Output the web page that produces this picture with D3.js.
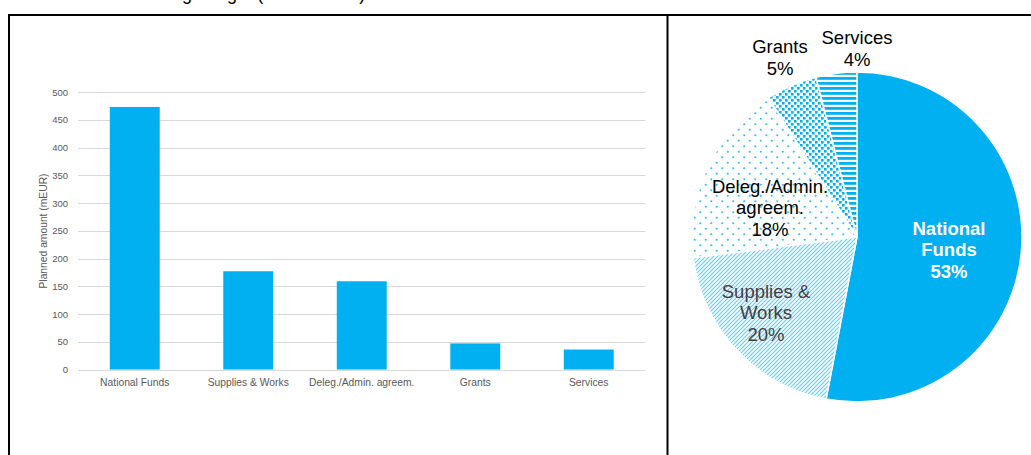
<!DOCTYPE html>
<html>
<head>
<meta charset="utf-8">
<script src="https://cdn.jsdelivr.net/npm/d3@7"></script>
<style>
  body { margin: 0; background: #fff; }
  svg { display: block; font-family: "Liberation Sans", Arial, sans-serif; }
</style>
</head>
<body>
<div id="container"></div>
<script>
let width = 1031;
let height = 455;

// data
let categories = ["National Funds", "Supplies & Works", "Deleg./Admin. agreem.", "Grants", "Services"];
let amounts = [473, 177, 159, 47, 36];
let pie_labels = [["National", "Funds"], ["Supplies &", "Works"], ["Deleg./Admin.", "agreem."], ["Grants"], ["Services"]];
let pie_shares = [53, 20, 18, 5, 4];
let y_ticks = [0, 50, 100, 150, 200, 250, 300, 350, 400, 450, 500];

let blue = "#00B0F0";

let svg = d3.select("#container").append("svg")
  .attr("width", width)
  .attr("height", height);

// title, cut off at the top edge as in the original
svg.append("text")
  .attr("x", 58)
  .attr("y", 0)
  .attr("font-size", 18)
  .attr("fill", "#000")
  .text("Overall financing budget (2021 - 2027)");

// frame
svg.append("path")
  .attr("d", "M9,460 V15 H1035 M667.5,15 V460")
  .attr("fill", "none")
  .attr("stroke", "#000")
  .attr("stroke-width", 2);

// ---- bar chart ----
let x = d3.scaleBand().domain(categories).range([78, 645.5]);
let y = d3.scaleLinear().domain([0, 500]).range([369.5, 92]);

let g = svg.append("g");

g.selectAll(".grid")
  .data(y_ticks)
  .enter()
  .append("line")
  .attr("class", "grid")
  .attr("x1", 78)
  .attr("x2", 645.5)
  .attr("y1", d => Math.round(y(d)) + 0.5)
  .attr("y2", d => Math.round(y(d)) + 0.5)
  .attr("stroke", "#d9d9d9")
  .attr("stroke-width", 1);

g.selectAll(".ytick")
  .data(y_ticks)
  .enter()
  .append("text")
  .attr("x", 68)
  .attr("y", d => y(d) + 3.5)
  .attr("text-anchor", "end")
  .attr("font-size", 9.5)
  .attr("fill", "#595959")
  .text(d => d);

let bar_w = x.bandwidth() * 0.44;

g.selectAll(".bar")
  .data(categories)
  .enter()
  .append("rect")
  .attr("class", "bar")
  .attr("x", d => x(d) + x.bandwidth() / 2 - bar_w / 2)
  .attr("width", bar_w)
  .attr("y", (d, i) => y(amounts[i]))
  .attr("height", (d, i) => y(0) - y(amounts[i]))
  .attr("fill", blue);

g.selectAll(".xlab")
  .data(categories)
  .enter()
  .append("text")
  .attr("x", d => x(d) + x.bandwidth() / 2)
  .attr("y", 386)
  .attr("text-anchor", "middle")
  .attr("font-size", 10.3)
  .attr("fill", "#595959")
  .text(d => d);

g.append("text")
  .attr("transform", "translate(47,231) rotate(-90)")
  .attr("text-anchor", "middle")
  .attr("font-size", 10.3)
  .attr("fill", "#595959")
  .text("Planned amount (mEUR)");

// ---- pie chart ----
let defs = svg.append("defs");

let p1 = defs.append("pattern").attr("id", "diag")
  .attr("patternUnits", "userSpaceOnUse")
  .attr("width", 4).attr("height", 4);
p1.append("rect").attr("width", 4).attr("height", 4).attr("fill", "#fff");
p1.append("path")
  .attr("d", "M-1,1 l2,-2 M0,4 l4,-4 M3,5 l2,-2")
  .attr("stroke", "#66cff5").attr("stroke-width", 1.2);

let p2 = defs.append("pattern").attr("id", "dots")
  .attr("patternUnits", "userSpaceOnUse")
  .attr("width", 11).attr("height", 11);
p2.append("rect").attr("width", 11).attr("height", 11).attr("fill", "#fff");
p2.append("circle").attr("cx", 2.75).attr("cy", 2.75).attr("r", 1.1).attr("fill", "#33c0f3");
p2.append("circle").attr("cx", 8.25).attr("cy", 8.25).attr("r", 1.1).attr("fill", "#33c0f3");

let p3 = defs.append("pattern").attr("id", "bigdots")
  .attr("patternUnits", "userSpaceOnUse")
  .attr("width", 6).attr("height", 6);
p3.append("rect").attr("width", 6).attr("height", 6).attr("fill", "#fff");
p3.append("rect").attr("x", 0).attr("y", 0).attr("width", 2.6).attr("height", 2.6).attr("fill", blue);
p3.append("rect").attr("x", 3).attr("y", 3).attr("width", 2.6).attr("height", 2.6).attr("fill", blue);

let p4 = defs.append("pattern").attr("id", "hlines")
  .attr("patternUnits", "userSpaceOnUse")
  .attr("width", 5).attr("height", 5);
p4.append("rect").attr("width", 5).attr("height", 5).attr("fill", "#fff");
p4.append("rect").attr("y", 0).attr("width", 5).attr("height", 2.8).attr("fill", blue);

let fills = [blue, "url(#diag)", "url(#dots)", "url(#bigdots)", "url(#hlines)"];
let text_colors = ["#fff", "#404040", "#000", "#000", "#000"];
let text_weights = ["bold", "normal", "normal", "normal", "normal"];
// label anchor points relative to pie centre
let label_pos = [[92, 13], [-91, 76], [-87, -29], [-77, -179], [0, -188]];

let cx = 857, cy = 237, radius = 165;

let pie = d3.pie().sort(null).value(d => d);
let arc = d3.arc().innerRadius(0).outerRadius(radius);

let pg = svg.append("g").attr("transform", "translate(" + cx + "," + cy + ")");

pg.selectAll(".slice")
  .data(pie(pie_shares))
  .enter()
  .append("path")
  .attr("class", "slice")
  .attr("d", arc)
  .attr("fill", (d, i) => fills[i])
  .attr("stroke", "#fff")
  .attr("stroke-width", 1.5);

let labels = pg.selectAll(".plabel")
  .data(pie_shares)
  .enter()
  .append("text")
  .attr("class", "plabel")
  .attr("text-anchor", "middle")
  .attr("font-size", 18.5)
  .attr("font-weight", (d, i) => text_weights[i])
  .attr("fill", (d, i) => text_colors[i]);

labels.each(function (d, i) {
  let lines = pie_labels[i].concat([d + "%"]);
  let t = d3.select(this);
  lines.forEach(function (ln, k) {
    t.append("tspan")
      .attr("x", label_pos[i][0])
      .attr("y", label_pos[i][1] + (k - (lines.length - 1) / 2) * 21.5 + 6)
      .text(ln);
  });
});
</script>
</body>
</html>
